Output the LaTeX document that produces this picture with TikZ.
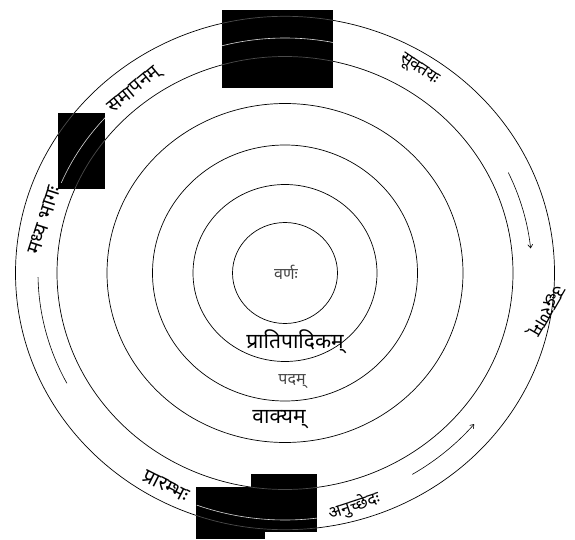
\documentclass[tikz,border=0pt]{standalone}
\usepackage{fontspec}
\newfontfamily\deva[Script=Devanagari]{Noto Sans}
\usetikzlibrary{calc,arrows.meta}
\definecolor{dimline}{RGB}{75,75,75}
\definecolor{softtext}{RGB}{70,70,70}
\begin{document}
\begin{tikzpicture}[x=1pt,y=1pt,
  ring/.style={line width=0.7pt},
  ringdim/.style={line width=0.7pt, draw=dimline},
  flow/.style={line width=0.6pt},
  flowtip/.style={line width=0.6pt,-{Straight Barb[length=3.5pt,width=5pt]}},
  hidden/.style={line width=0.6pt, draw=white!85!black},
  lblfont/.style={font=\deva\fontsize{#1}{#1}\selectfont, inner sep=0pt},
  smalllbl/.style={font=\deva\fontsize{#1}{#1}\selectfont, inner sep=0pt, text=softtext},
  blackbox/.style={fill=black, draw=none}
]
\useasboundingbox (0,0) rectangle (575,539);
\coordinate (C) at (285,266);

% concentric rings
\foreach \rx/\ry in {52.5/50.5, 92/88.5, 132.5/128, 178/169.5, 228/216.5, 269.5/256.7}
  \draw[ring] (C) ellipse [x radius=\rx, y radius=\ry];

% flow arcs
\coordinate (fr1) at ($(C)+(25.3:247 and 235)$);
\draw[flowtip] (fr1) arc[start angle=25.3, end angle=6, x radius=247, y radius=235];
\coordinate (fl1) at ($(C)+(181:247 and 235)$);
\draw[flow] (fl1) arc[start angle=181, end angle=208, x radius=247, y radius=235];
\coordinate (fb1) at ($(C)+(-59:247 and 235)$);
\draw[flowtip] (fb1) arc[start angle=-59, end angle=-40, x radius=247, y radius=235];

% black boxes
\fill[blackbox] (222,451) rectangle (333,529);
\fill[blackbox] (58,350) rectangle (105,426);
\fill[blackbox] (196,0) rectangle (265,52);
\fill[blackbox] (251,7) rectangle (317,65);
\begin{scope}
  \clip (222,451) rectangle (333,529) (58,350) rectangle (105,426)
        (196,0) rectangle (265,52) (251,7) rectangle (317,65);
  \foreach \rx/\ry in {178/169.5, 228/216.5, 269.5/256.7}
    \draw[ringdim] (C) ellipse [x radius=\rx, y radius=\ry];
  \draw[hidden] ($(C)+(76:247 and 235)$) arc[start angle=76, end angle=106, x radius=247, y radius=235];
  \draw[hidden] ($(C)+(157:243 and 231)$) arc[start angle=157, end angle=134, x radius=243, y radius=231];
  \draw[hidden] ($(C)+(250:258 and 247)$) arc[start angle=250, end angle=278, x radius=258, y radius=247];
\end{scope}

% centre labels
\node[smalllbl=16] (varna) at (286,267) {वर्णः};
\node[lblfont=21] (prati) at (295,197) {प्रातिपादिकम्};
\node[smalllbl=16] (padam) at (292,157) {पदम्};
\node[lblfont=21] (vakya) at (279,119) {वाक्यम्};

% outer ring labels
\node[lblfont=19, rotate=40] (samap) at (135,448) {समापनम्};
\node[lblfont=20, rotate=72] (madhya) at (44,319) {मध्य भागः};
\node[lblfont=17, rotate=-34] (sukt) at (419,469) {सूक्तयः};
\node[lblfont=20, rotate=-27] (prar) at (166,53) {प्रारम्भः};
\node[lblfont=17, rotate=18] (anuc) at (354,33) {अनुच्छेदः};
\node[lblfont=18, rotate=-120] (uddh) at (546,229) {उद्धरणम्};
\end{tikzpicture}
\end{document}
